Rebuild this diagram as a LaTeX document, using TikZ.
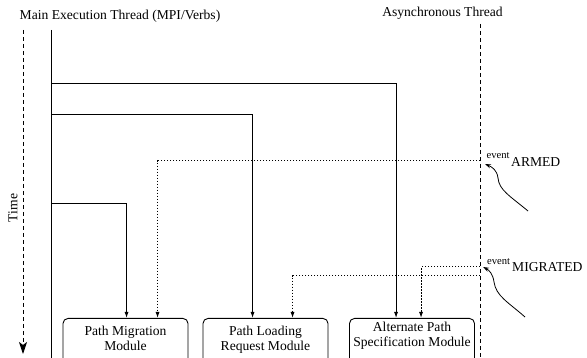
\documentclass[tikz,border=0pt]{standalone}
\usepackage{fontspec}
\setmainfont{Liberation Serif}
\usetikzlibrary{arrows.meta}
\begin{document}
\begin{tikzpicture}[x=1pt,y=-1pt,
  every node/.style={font=\fontsize{13.6}{15}\selectfont, inner sep=0pt},
  solidline/.style={line width=0.9pt},
  dotline/.style={line width=1pt, dash pattern=on 1.5pt off 1.5pt},
  dashline/.style={line width=0.9pt, dash pattern=on 4pt off 3pt},
  tip/.style={-{Latex[length=6pt,width=4pt]}},
  modbox/.style={draw, line width=0.9pt, rounded corners=5pt, minimum width=125pt, minimum height=60pt, anchor=north},
  boxtext/.style={anchor=north, align=center},
  smalltxt/.style={font=\fontsize{10.6}{12}\selectfont, anchor=base west},
  evtxt/.style={anchor=base west}
]
\useasboundingbox (0,0) rectangle (587,358);
\clip (0,0) rectangle (587,358);

% titles
\node[anchor=base] (mtitle) at (120,20) {Main Execution Thread (MPI/Verbs)};
\node[anchor=base] (atitle) at (442.5,17) {Asynchronous Thread};
\node[rotate=90] (time) at (13,208) {Time};

% threads
\coordinate (mtop) at (51,30);
\coordinate (mbot) at (51,365);
\draw[solidline] (mtop) -- (mbot);
\coordinate (atop) at (480,24);
\coordinate (abot) at (480,365);
\draw[dashline] (atop) -- (abot);
\coordinate (ttop) at (23,30);
\coordinate (tbot) at (23,354);
\draw[dashline, -{Stealth[length=12pt,width=8pt,inset=3pt]}] (ttop) -- (tbot);

% modules
\node[modbox] (pm) at (125.5,318) {};
\node[modbox] (pl) at (265.5,318) {};
\node[modbox] (ap) at (412,318) {};
\node[boxtext] (pmt) at ([yshift=-8pt]pm.north) {Path Migration\\Module};
\node[boxtext] (plt) at ([yshift=-8pt]pl.north) {Path Loading\\Request Module};
\node[boxtext] (apt) at ([yshift=-4pt]ap.north) {Alternate Path\\Specification Module};

% main thread calls
\coordinate (m1) at (51,83);
\coordinate (m2) at (51,114);
\coordinate (m3) at (51,203);
\draw[solidline, tip] (m1) -| ([xshift=47pt]ap.north west);
\draw[solidline, tip] (m2) -| ([xshift=50pt]pl.north west);
\draw[solidline, tip] (m3) -| ([xshift=64pt]pm.north west);

% async events
\coordinate (a1) at (480,161);
\coordinate (a2) at (480,267);
\coordinate (a3) at (480,276);
\draw[dotline, tip] (a1) -| ([xshift=95pt]pm.north west);
\draw[dotline, tip] (a2) -| ([xshift=72pt]ap.north west);
\draw[dotline, tip] (a3) -| ([xshift=90pt]pl.north west);

% event labels
\node[smalltxt] (ev1) at (486.5,159) {event};
\node[evtxt] (arm) at (511,166.5) {ARMED};
\node[smalltxt] (ev2) at (487,265) {event};
\node[evtxt] (mig) at (512,271.5) {MIGRATED};

\coordinate (s1) at (528,211);
\coordinate (e1) at (485,164);
\coordinate (s2) at (525,317);
\coordinate (e2) at (483,267);
\draw[line width=0.8pt, -{Stealth[length=6pt,width=4pt]}] (s1) .. controls (510,196) and (499,190) .. (498,178) .. controls (497,170) and (492,167) .. (e1);
\draw[line width=0.8pt, -{Stealth[length=6pt,width=4pt]}] (s2) .. controls (508,302) and (496,296) .. (494,282) .. controls (493,274) and (489,270) .. (e2);
\end{tikzpicture}
\end{document}
